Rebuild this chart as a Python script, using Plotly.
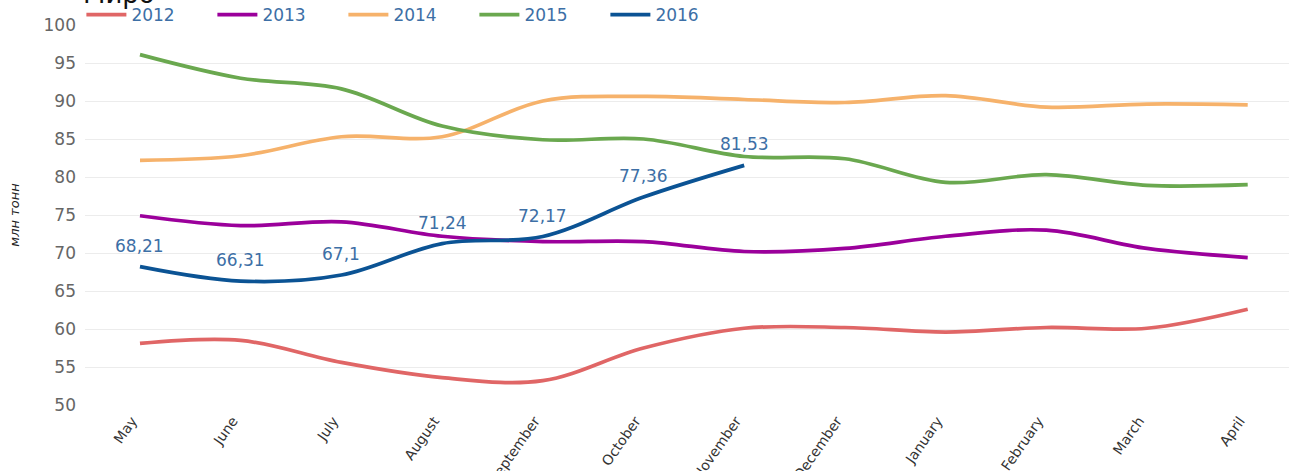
import plotly.graph_objects as go

months = ["May", "June", "July", "August", "September", "October", "November",
          "December", "January", "February", "March", "April"]

s2012 = [58.1, 58.5, 55.6, 53.6, 53.2, 57.5, 60.1, 60.2, 59.6, 60.2, 60.1, 62.6]
s2013 = [74.9, 73.6, 74.1, 72.2, 71.5, 71.5, 70.2, 70.6, 72.2, 73.0, 70.6, 69.4]
s2014 = [82.2, 82.8, 85.3, 85.3, 90.0, 90.6, 90.2, 89.8, 90.7, 89.2, 89.6, 89.5]
s2015 = [96.1, 93.0, 91.6, 86.7, 84.9, 85.0, 82.7, 82.4, 79.3, 80.3, 78.9, 79.0]
s2016 = [68.21, 66.31, 67.1, 71.24, 72.17, 77.36, 81.53]

series = [
    ("2012", s2012, "#e06666"),
    ("2013", s2013, "#9b009b"),
    ("2014", s2014, "#f6b26b"),
    ("2015", s2015, "#6aa84f"),
    ("2016", s2016, "#0b5394"),
]

label_color = "#3d6fa6"
font_family = "DejaVu Sans, Arial, sans-serif"

fig = go.Figure()
for name, vals, col in series:
    fig.add_trace(go.Scatter(
        x=months[:len(vals)], y=vals, name=name, mode="lines",
        line=dict(color=col, width=3.7, shape="spline", smoothing=1.0),
    ))

for m, v in zip(months, s2016):
    fig.add_annotation(x=m, y=v, text=f"{v:g}".replace(".", ","),
                       showarrow=False, yshift=21,
                       font=dict(size=17, color=label_color, family=font_family))

fig.add_annotation(xref="paper", yref="paper", x=-0.003, y=1.037, xanchor="left",
                   yanchor="bottom", text="Миро", showarrow=False,
                   font=dict(size=26, color="#111111", family=font_family))

fig.update_layout(
    width=1289, height=471,
    margin=dict(l=85, r=0, t=25, b=66, autoexpand=False),
    plot_bgcolor="white", paper_bgcolor="white",
    font=dict(family=font_family),
    showlegend=True,
    legend=dict(orientation="h", x=-0.003, xanchor="left", y=1.026, yanchor="middle",
                font=dict(size=17, color=label_color), entrywidth=76,
                entrywidthmode="pixels", bgcolor="rgba(0,0,0,0)", itemwidth=40),
    xaxis=dict(categoryorder="array", categoryarray=months, automargin=False,
               range=[-0.546, 11.41], tickangle=-55, showgrid=False,
               ticklabelshift=-8, ticklabelstandoff=4,
               tickfont=dict(size=14, color="#333333"), showline=False, zeroline=False),
    yaxis=dict(range=[50, 100], dtick=5, gridcolor="#ececec", gridwidth=1,
               automargin=False, ticklabelstandoff=8,
               tickfont=dict(size=17, color="#666666"), zeroline=False,
               title=dict(text="<i>млн тонн</i>", font=dict(size=13, color="#222222"),
                          standoff=20)),
)

fig.write_html("out.html", config={"displayModeBar": False},
               post_script="document.body.style.margin='0';document.body.style.overflow='hidden';")
